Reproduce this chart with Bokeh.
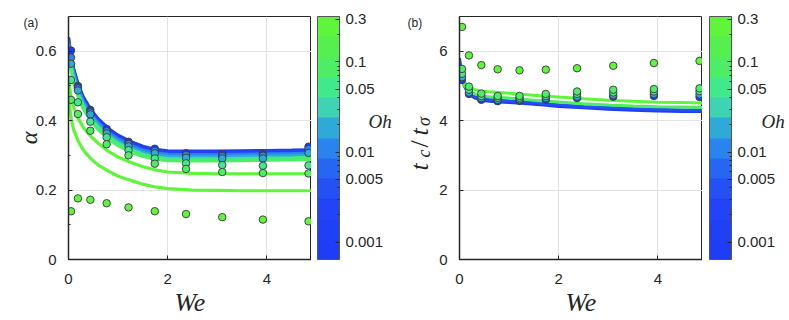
import math
from bokeh.plotting import figure
from bokeh.models import (ColumnDataSource, LogColorMapper, ColorBar, FixedTicker,
                          Range1d, Label)
from bokeh.layouts import row
from bokeh.embed import file_html
from bokeh.resources import INLINE

# ---------------- data ----------------
WE_PTS = [0.05, 0.19, 0.44, 0.77, 1.21, 1.74, 2.37, 3.10, 3.92, 4.84]
WE_LINE = [0, 0.05, 0.1, 0.2, 0.3, 0.45, 0.6, 0.8, 1.0, 1.25, 1.5, 1.75, 2.0,
           2.5, 3.0, 3.5, 4.0, 4.5, 4.9]

# panel (a) simulation points (alpha), one list per Oh
A_PTS_OH = [0.001, 0.01, 0.02, 0.05, 0.1, 0.3]
a_pts_oh0001 = [0.602, 0.500, 0.431, 0.376, 0.339, 0.319, 0.306, 0.303, 0.304, 0.325]
a_pts_oh001 = [0.582, 0.493, 0.424, 0.370, 0.333, 0.313, 0.301, 0.298, 0.299, 0.318]
a_pts_oh002 = [0.564, 0.487, 0.418, 0.363, 0.326, 0.306, 0.293, 0.291, 0.291, 0.307]
a_pts_oh005 = [0.517, 0.453, 0.397, 0.352, 0.315, 0.291, 0.277, 0.272, 0.270, 0.271]
a_pts_oh01 = [0.460, 0.419, 0.371, 0.332, 0.300, 0.276, 0.261, 0.252, 0.249, 0.248]
a_pts_oh03 = [0.139, 0.176, 0.172, 0.162, 0.150, 0.139, 0.131, 0.122, 0.115, 0.110]

# panel (a) model curves (alpha)
A_LINE_OH = [0.001, 0.003, 0.01, 0.02, 0.05, 0.1, 0.2, 0.3]
a_line_oh0001 = [0.640, 0.588, 0.552, 0.502, 0.468, 0.432, 0.405, 0.378, 0.358, 0.340, 0.326, 0.317, 0.313, 0.312, 0.312, 0.313, 0.314, 0.315, 0.316]
a_line_oh0003 = [0.635, 0.583, 0.547, 0.497, 0.463, 0.427, 0.400, 0.373, 0.353, 0.335, 0.321, 0.313, 0.309, 0.308, 0.308, 0.309, 0.310, 0.311, 0.312]
a_line_oh001 = [0.628, 0.576, 0.540, 0.490, 0.456, 0.420, 0.394, 0.367, 0.347, 0.329, 0.315, 0.307, 0.303, 0.302, 0.302, 0.303, 0.304, 0.305, 0.306]
a_line_oh002 = [0.620, 0.568, 0.532, 0.483, 0.449, 0.414, 0.388, 0.361, 0.341, 0.323, 0.309, 0.301, 0.297, 0.296, 0.296, 0.297, 0.298, 0.299, 0.300]
a_line_oh005 = [0.610, 0.559, 0.523, 0.475, 0.442, 0.407, 0.381, 0.355, 0.335, 0.317, 0.303, 0.295, 0.291, 0.290, 0.290, 0.291, 0.292, 0.293, 0.294]
a_line_oh01 = [0.598, 0.548, 0.513, 0.466, 0.433, 0.399, 0.374, 0.348, 0.328, 0.310, 0.297, 0.289, 0.285, 0.284, 0.284, 0.285, 0.286, 0.287, 0.288]
a_line_oh02 = [0.520, 0.470, 0.440, 0.405, 0.380, 0.355, 0.335, 0.312, 0.295, 0.280, 0.267, 0.258, 0.252, 0.248, 0.247, 0.247, 0.247, 0.247, 0.247]
a_line_oh03 = [0.470, 0.410, 0.375, 0.340, 0.315, 0.290, 0.272, 0.255, 0.240, 0.228, 0.217, 0.209, 0.204, 0.200, 0.199, 0.198, 0.198, 0.198, 0.198]

# panel (b) simulation points (t_c / t_sigma)
B_PTS_OH = [0.001, 0.02, 0.05, 0.1, 0.3]
b_pts_oh0001 = [5.17, 4.77, 4.60, 4.56, 4.57, 4.60, 4.65, 4.69, 4.71, 4.68]
b_pts_oh002 = [5.25, 4.81, 4.65, 4.60, 4.61, 4.65, 4.69, 4.74, 4.77, 4.76]
b_pts_oh005 = [5.35, 4.89, 4.71, 4.66, 4.66, 4.71, 4.77, 4.81, 4.84, 4.85]
b_pts_oh01 = [5.49, 4.98, 4.78, 4.71, 4.71, 4.77, 4.84, 4.89, 4.91, 4.93]
b_pts_oh03 = [6.70, 5.88, 5.60, 5.48, 5.45, 5.47, 5.51, 5.58, 5.66, 5.72]

# panel (b) model curves
B_LINE_OH = [0.001, 0.005, 0.1, 0.3]
b_line_oh0001 = [5.80, 5.22, 4.98, 4.76, 4.66, 4.59, 4.56, 4.54, 4.52, 4.50, 4.47, 4.44, 4.41, 4.37, 4.33, 4.30, 4.28, 4.26, 4.26]
b_line_oh0005 = [5.75, 5.25, 5.02, 4.80, 4.70, 4.64, 4.61, 4.59, 4.57, 4.55, 4.52, 4.49, 4.46, 4.41, 4.38, 4.35, 4.33, 4.31, 4.31]
b_line_oh01 = [5.40, 5.15, 5.00, 4.85, 4.77, 4.71, 4.69, 4.67, 4.65, 4.62, 4.59, 4.56, 4.54, 4.49, 4.45, 4.42, 4.40, 4.39, 4.38]
b_line_oh03 = [5.50, 5.25, 5.10, 4.97, 4.90, 4.85, 4.83, 4.81, 4.79, 4.76, 4.73, 4.70, 4.68, 4.63, 4.59, 4.56, 4.53, 4.52, 4.51]

# colour scale
OH_LOW, OH_HIGH = 0.00064, 0.32
PALETTE = ["#1f3cf6", "#2040f6", "#2244f6", "#2450f5", "#2766f3", "#2a84f0",
           "#2eaad8", "#3dd3b3", "#40ea8c", "#4ded65", "#55f050", "#5ef53a"]
CB_TICKS = [0.001, 0.005, 0.01, 0.05, 0.1, 0.3]
CB_LABELS = ["0.001", "0.005", "0.01", "0.05", "0.1", "0.3"]
CB_MINOR = [0.002, 0.003, 0.004, 0.006, 0.007, 0.008, 0.009, 0.02, 0.03, 0.04,
            0.06, 0.07, 0.08, 0.09, 0.2]

A_YTICKS = [0, 0.2, 0.4, 0.6]
A_YLABELS = ["0", "0.2", "0.4", "0.6"]
B_YTICKS = [0, 2, 4, 6]
B_YLABELS = ["0", "2", "4", "6"]
XTICKS = [0, 2, 4]
XLABELS = ["0", "2", "4"]

TXT = "#262626"
SANS = "Liberation Sans"
SERIF = "Liberation Serif"
H = 319          # common figure height
TOP, FH = 16, 243
FB = TOP + FH    # page y of the frame bottom


def make_mapper():
    return LogColorMapper(palette=PALETTE, low=OH_LOW, high=OH_HIGH)


def make_panel(pts_oh, pts_vals, line_oh, line_vals, ymax, yticks, ylabels,
               yminor, left_border, lw):
    p = figure(frame_width=243, frame_height=FH, height=H,
               min_border_left=left_border, min_border_right=0,
               min_border_top=TOP, min_border_bottom=H - FB,
               x_range=Range1d(0, 4.9), y_range=Range1d(0, ymax),
               output_backend="svg", toolbar_location=None,
               background_fill_color="white", border_fill_alpha=0,
               outline_line_color=TXT, outline_line_width=1)
    mapper = make_mapper()

    lsrc = ColumnDataSource(dict(xs=[WE_LINE] * len(line_vals), ys=line_vals,
                                 oh=line_oh))
    p.multi_line("xs", "ys", source=lsrc, line_width=lw,
                 line_color={"field": "oh", "transform": mapper})

    xs, ys, ohs = [], [], []
    for oh, vals in zip(pts_oh, pts_vals):
        for w, v in zip(WE_PTS, vals):
            xs.append(w)
            ys.append(v)
            ohs.append(oh)
    psrc = ColumnDataSource(dict(x=xs, y=ys, oh=ohs))
    p.scatter("x", "y", source=psrc, size=7.5, line_color="#3a3a3a",
              line_width=0.9,
              fill_color={"field": "oh", "transform": mapper})

    p.xaxis.ticker = FixedTicker(ticks=XTICKS)
    p.xaxis.major_label_overrides = dict(zip(XTICKS, XLABELS))
    p.yaxis.ticker = FixedTicker(ticks=yticks, minor_ticks=yminor)
    p.yaxis.major_label_overrides = dict(zip(yticks, ylabels))
    for ax in (p.xaxis[0], p.yaxis[0]):
        ax.major_tick_in = 4
        ax.major_tick_out = 0
        ax.minor_tick_in = 2
        ax.minor_tick_out = 0
        ax.major_tick_line_color = TXT
        ax.minor_tick_line_color = TXT
        ax.axis_line_color = TXT
        ax.axis_line_width = 1.5
        ax.major_label_text_font = SANS
        ax.major_label_text_font_size = "15px"
        ax.major_label_text_color = TXT
        ax.axis_label_text_font = SERIF
        ax.axis_label_text_font_style = "italic"
        ax.axis_label_text_color = TXT
        ax.axis_label_text_font_size = "26px"
    p.xaxis.major_label_standoff = 14
    p.yaxis.major_label_standoff = 12
    p.xaxis.axis_label = "We"
    p.xaxis.axis_label_standoff = 1
    p.xgrid.ticker = FixedTicker(ticks=XTICKS)
    p.ygrid.ticker = FixedTicker(ticks=yticks)
    p.xgrid.grid_line_color = "#e3e3e3"
    p.ygrid.grid_line_color = "#e3e3e3"
    return p


def blank(w):
    f = figure(frame_width=w, frame_height=FH, height=H,
               min_border_left=0, min_border_right=0,
               min_border_top=TOP, min_border_bottom=H - FB,
               x_range=Range1d(0, w), y_range=Range1d(0, FH),
               toolbar_location=None, output_backend="svg",
               outline_line_color=None,
               x_axis_location=None, y_axis_location=None,
               border_fill_alpha=0, background_fill_alpha=0)
    f.xgrid.visible = False
    f.ygrid.visible = False
    return f


def lab(f, x, page_y, text, **kw):
    """Label at frame-relative x and page y (converted to frame-relative)."""
    f.add_layout(Label(x=x, y=FB - page_y, x_units="screen", y_units="screen",
                       text=text, text_color=TXT, **kw))


def add_colorbar(f, x0, oh_x):
    cb = ColorBar(color_mapper=make_mapper(), width=22, height=FH,
                  location=(x0, 0),
                  ticker=FixedTicker(ticks=CB_TICKS, minor_ticks=CB_MINOR),
                  major_label_overrides=dict(zip(CB_TICKS, CB_LABELS)),
                  major_label_text_font=SANS, major_label_text_font_size="15px",
                  major_label_text_color=TXT,
                  major_tick_in=4, major_tick_out=0,
                  minor_tick_in=2, minor_tick_out=0,
                  major_tick_line_color=TXT, minor_tick_line_color=TXT,
                  bar_line_color="#555555", bar_line_width=1,
                  label_standoff=6, padding=0, margin=0,
                  background_fill_alpha=0, border_line_alpha=0)
    f.add_layout(cb)
    lab(f, oh_x, 131.7, "Oh", text_font=SERIF, text_font_style="italic",
        text_font_size="19px")


# left label strip: (a) and alpha
labA = blank(44)
lab(labA, 23, 29.5, "(a)", text_font=SANS, text_font_size="12px")
lab(labA, 28, 137.5, "α", angle=math.pi / 2, text_font=SERIF,
    text_font_style="italic", text_font_size="24px", text_align="center",
    text_baseline="alphabetic")

p1 = make_panel(A_PTS_OH,
                [a_pts_oh0001, a_pts_oh001, a_pts_oh002, a_pts_oh005, a_pts_oh01, a_pts_oh03],
                A_LINE_OH,
                [a_line_oh0001, a_line_oh0003, a_line_oh001, a_line_oh002,
                 a_line_oh005, a_line_oh01, a_line_oh02, a_line_oh03],
                0.7, A_YTICKS, A_YLABELS, [0.1, 0.3, 0.5], 36, 3.2)
p1.margin = (0, 0, 0, -12)

# middle strip: colour bar (a), "Oh", (b), y-label of (b)
mid = blank(125)
add_colorbar(mid, 6, 57)
lab(mid, 96, 29.5, "(b)", text_font=SANS, text_font_size="12px")
pieces = [("t", 170, 108, "26px", "italic"),
          ("c", 157, 112, "18px", "italic"),
          ("/", 147, 108, "26px", "normal"),
          ("t", 135, 108, "26px", "italic"),
          ("σ", 125.5, 112, "18px", "italic")]
for txt, py, xx, fs, st in pieces:
    lab(mid, xx, py, txt, angle=math.pi / 2, text_font=SERIF,
        text_font_style=st, text_font_size=fs, text_baseline="alphabetic",
        text_align="left")

p2 = make_panel(B_PTS_OH,
                [b_pts_oh0001, b_pts_oh002, b_pts_oh005, b_pts_oh01, b_pts_oh03],
                B_LINE_OH,
                [b_line_oh0001, b_line_oh0005, b_line_oh01, b_line_oh03],
                7.0, B_YTICKS, B_YLABELS, [], 22, 3.0)

# right strip: colour bar (b) and "Oh"
cbR = blank(86)
add_colorbar(cbR, 7, 59)

layout = row(labA, p1, mid, p2, cbR)
open("out.html", "w").write(file_html(layout, INLINE))
